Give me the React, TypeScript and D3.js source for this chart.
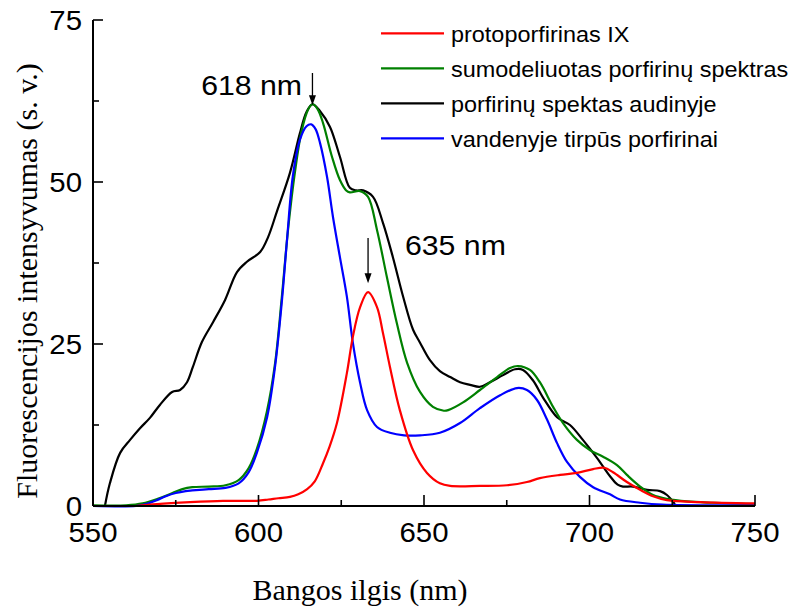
import React from "react";
import * as d3 from "d3";

// Wavelength (nm) / intensity (a.u.) pairs for each spectrum
const tissueSpectrum: [number, number][] = [
  [553.6, 0], [555.1, 3.5], [558.2, 8.2], [561.2, 10.2], [564.2, 12.0], [567.2, 13.6],
  [570.2, 15.6], [573.9, 17.6], [576.3, 17.9], [578.4, 19.1], [580.2, 21.5], [582.9, 25.3],
  [586.3, 28.4], [589.9, 31.8], [593.5, 36.1], [596.5, 37.7], [600.5, 39.2], [602.9, 41.5],
  [605.6, 45.5], [609.5, 51.4], [612.5, 57.5], [614.5, 60.8], [616.3, 62.0], [618.5, 61.0],
  [621.6, 58.5], [624.6, 53.9], [627.6, 49.1], [629.5, 48.7], [631.6, 48.7], [634.6, 47.7],
  [637.6, 43.7], [640.6, 38.4], [643.7, 32.3], [646.7, 27.2], [648.8, 25.2], [651.8, 22.5],
  [654.8, 20.8], [657.9, 19.9], [660.9, 19.1], [663.9, 18.7], [666.9, 18.4], [669.9, 19.1],
  [673.9, 20.2], [677.5, 21.1], [679.9, 21.0], [682.9, 19.4], [686.0, 16.7], [690.2, 13.7],
  [694.1, 12.5], [698.0, 10.2], [702.3, 7.4], [706.2, 4.6], [708.5, 3.3], [710.1, 3.0],
  [713.1, 3.0], [717.4, 2.5], [721.3, 2.3], [723.4, 1.7], [725.8, 0.3],
];

const modelSpectrum: [number, number][] = [
  [550, 0.1], [560, 0.1], [565, 0.4], [570, 1.2], [574, 2.0], [577, 2.6], [580, 2.9],
  [585, 3.0], [590, 3.2], [594, 4.0], [597, 5.8], [599.5, 8.8], [602.5, 14.5], [605, 22],
  [607, 32], [609, 43], [611, 51.5], [613, 57.8], [615, 61.2], [616.3, 62.0], [617.8, 61.3],
  [619.5, 59.1], [622.2, 53.9], [624.6, 50.3], [626.5, 48.7], [627.6, 48.4], [630.7, 48.6],
  [633.1, 47.7], [635.8, 42.6], [638.8, 35.3], [641.8, 28.2], [644.9, 22.1], [648.8, 17.6],
  [652.7, 15.3], [656, 14.7], [657.3, 14.8], [661.8, 16.0], [666.9, 17.9], [672.1, 19.9],
  [676.0, 21.3], [678.4, 21.6], [682.0, 21.0], [685.0, 19.1], [689.0, 15.3], [692.0, 12.8],
  [696.2, 10.2], [700.2, 8.6], [704.1, 7.6], [708.3, 6.3], [711.3, 4.8], [715.3, 3.0],
  [719.2, 1.7], [723.4, 1.1], [729.5, 0.7], [737.3, 0.5], [750, 0.3],
];

const waterSolubleSpectrum: [number, number][] = [
  [550, 0], [563, 0], [566, 0.3], [569.3, 0.9], [572, 1.5], [575, 2.0], [578, 2.3],
  [580, 2.4], [585, 2.6], [590, 2.8], [594, 3.5], [597, 5.2], [599.5, 8.2], [602.6, 13.7],
  [605, 21.5], [607.1, 31.8], [608.6, 41.0], [610.4, 51.0], [612.5, 56.5], [614.5, 58.6],
  [615.9, 58.9], [617.2, 58.2], [618.6, 56.0], [620.7, 50.8], [622.5, 44.6], [624.6, 38.4],
  [626.7, 32.3], [628.5, 25.2], [630.7, 19.0], [632.8, 14.8], [635.8, 12.2], [639.7, 11.3],
  [644, 10.9], [648.8, 10.9], [654.8, 11.3], [660.9, 12.8], [666.9, 15.1], [673.0, 17.1],
  [678.1, 18.2], [681.1, 17.9], [684.1, 16.4], [687.2, 13.3], [690.2, 9.7], [693.2, 6.8],
  [697.1, 4.5], [701.1, 2.9], [706.2, 1.8], [709.2, 1.0], [715.3, 0.5], [722, 0.2], [750, 0.1],
];

const protoporphyrinSpectrum: [number, number][] = [
  [563, 0], [569.3, 0.3], [579.3, 0.6], [589.3, 0.8], [599.5, 0.8], [603, 1.0], [606, 1.2],
  [609.5, 1.4], [612, 1.8], [614.7, 2.6], [617, 3.8], [619.5, 6.6], [621.5, 9.2],
  [623.7, 12.8], [626.7, 20.5], [628.5, 26.1], [630.7, 30.7], [633.1, 33.0], [635.8, 30.7],
  [637.6, 26.7], [639.7, 21.5], [642.7, 14.8], [646.7, 8.6], [650.9, 5.1], [654.8, 3.5],
  [657.9, 3.1], [666.9, 3.1], [675.1, 3.2], [681.1, 3.7], [685.0, 4.3], [691.1, 4.8],
  [696.2, 5.1], [701.1, 5.7], [704.5, 5.9], [707.1, 5.2], [711.3, 3.7], [715.3, 2.5],
  [719.2, 1.5], [723.4, 0.9], [733.4, 0.6], [750, 0.4],
];

const legendLabels = [
  "protoporfirinas IX",
  "sumodeliuotas porfirinų spektras",
  "porfirinų spektas audinyje",
  "vandenyje tirpūs porfirinai",
];
const legendColors = ["#ff0000", "#008000", "#000000", "#0000ff"];

const xTicks = [550, 600, 650, 700, 750];
const xMinorTicks = [575, 625, 675, 725];
const yTicks = [0, 25, 50, 75];
const yMinorTicks = [12.5, 37.5, 62.5];

const xTitle = "Bangos ilgis (nm)";
const yTitle = "Fluorescencijos intensyvumas (s. v.)";
const peakLabels = ["618 nm", "635 nm"];

const W = 790;
const H = 609;
const margin = { left: 93, right: 35, top: 20, bottom: 103 };

const SANS = "'Liberation Sans', Arial, sans-serif";
const SERIF = "'Liberation Serif', 'Times New Roman', serif";

// Text with a slight horizontal stretch (wide sans face)
function WideText(props: {
  x: number;
  y: number;
  sx: number;
  size: number;
  anchor?: "start" | "middle" | "end";
  family?: string;
  children: React.ReactNode;
}) {
  const { x, y, sx, size, anchor = "start", family = SANS, children } = props;
  return (
    <text
      transform={`translate(${x},${y}) scale(${sx},1)`}
      textAnchor={anchor}
      fontFamily={family}
      fontSize={size}
      fill="#000"
    >
      {children}
    </text>
  );
}

export default function App() {
  const x = d3.scaleLinear().domain([550, 750]).range([margin.left, W - margin.right]);
  const y = d3.scaleLinear().domain([0, 75]).range([H - margin.bottom, margin.top]);

  const line = d3
    .line<[number, number]>()
    .x((d) => x(d[0]))
    .y((d) => y(d[1]))
    .curve(d3.curveCatmullRom.alpha(0.5));

  const x0 = x(550);
  const y0 = y(0);

  const series = [
    { data: tissueSpectrum, color: legendColors[2] },
    { data: modelSpectrum, color: legendColors[1] },
    { data: waterSolubleSpectrum, color: legendColors[3] },
    { data: protoporphyrinSpectrum, color: legendColors[0] },
  ];

  // Arrows point at the peaks of the tissue and protoporphyrin spectra
  const tissuePeak = tissueSpectrum[d3.maxIndex(tissueSpectrum, (d) => d[1])];
  const ppPeak = protoporphyrinSpectrum[d3.maxIndex(protoporphyrinSpectrum, (d) => d[1])];

  const arrow = (px: number, yFrom: number, yTip: number) => (
    <g>
      <line x1={px} x2={px} y1={yFrom} y2={yTip - 8} stroke="#000" strokeWidth={1.3} />
      <path d={`M${px - 3.5},${yTip - 10} L${px + 3.5},${yTip - 10} L${px},${yTip} Z`} fill="#000" />
    </g>
  );

  const legendX = 381;
  const legendY0 = 33.3;
  const legendDy = 35;

  return (
    <svg width={W} height={H} style={{ position: "absolute", left: 0, top: 0, background: "#fff" }}>
      {/* curves */}
      {series.map((s, i) => (
        <path key={i} d={line(s.data) ?? ""} fill="none" stroke={s.color} strokeWidth={2.2} />
      ))}

      {/* axes */}
      <line x1={x0} x2={x(750)} y1={y0} y2={y0} stroke="#000" strokeWidth={2} />
      <line x1={x0} x2={x0} y1={y(75)} y2={y0} stroke="#000" strokeWidth={2} />
      {xTicks.map((t) => (
        <g key={`xt${t}`}>
          <line x1={x(t)} x2={x(t)} y1={y0} y2={y0 - 11} stroke="#000" strokeWidth={1.6} />
          <WideText x={x(t)} y={y0 + 36} sx={1.05} size={28} anchor="middle">
            {t}
          </WideText>
        </g>
      ))}
      {xMinorTicks.map((t) => (
        <line key={`xm${t}`} x1={x(t)} x2={x(t)} y1={y0} y2={y0 - 6} stroke="#000" strokeWidth={1.6} />
      ))}
      {yTicks.map((t) => (
        <g key={`yt${t}`}>
          <line x1={x0} x2={x0 + 10} y1={y(t)} y2={y(t)} stroke="#000" strokeWidth={1.6} />
          <WideText x={x0 - 11} y={y(t) + 9.5} sx={1.05} size={28} anchor="end">
            {t}
          </WideText>
        </g>
      ))}
      {yMinorTicks.map((t) => (
        <line key={`ym${t}`} x1={x0} x2={x0 + 6} y1={y(t)} y2={y(t)} stroke="#000" strokeWidth={1.6} />
      ))}

      {/* axis titles */}
      <text x={360} y={600} textAnchor="middle" fontFamily={SERIF} fontSize={30} fill="#000">
        {xTitle}
      </text>
      <text
        transform={`translate(37, 281) rotate(-90)`}
        textAnchor="middle"
        fontFamily={SERIF}
        fontSize={30}
        fill="#000"
      >
        {yTitle}
      </text>

      {/* peak annotations */}
      <WideText x={302} y={95} sx={1.08} size={28} anchor="end">
        {peakLabels[0]}
      </WideText>
      {arrow(x(tissuePeak[0]), 73, y(tissuePeak[1]) + 1)}
      <WideText x={405} y={255} sx={1.08} size={28}>
        {peakLabels[1]}
      </WideText>
      {arrow(x(ppPeak[0]), 238, y(ppPeak[1]) - 9)}

      {/* legend */}
      {legendLabels.map((lab, i) => (
        <g key={lab}>
          <line
            x1={legendX}
            x2={legendX + 63}
            y1={legendY0 + i * legendDy}
            y2={legendY0 + i * legendDy}
            stroke={legendColors[i]}
            strokeWidth={2.2}
          />
          <WideText x={451} y={legendY0 + i * legendDy + 8.5} sx={1.065} size={22}>
            {lab}
          </WideText>
        </g>
      ))}
    </svg>
  );
}
